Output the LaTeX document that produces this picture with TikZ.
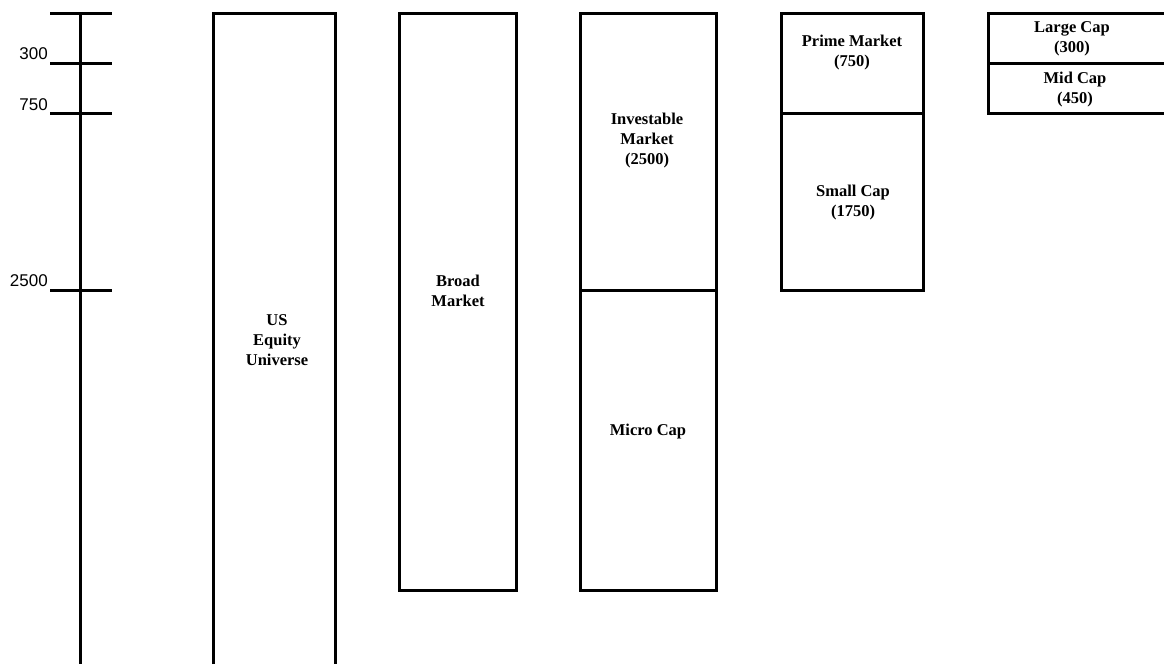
\documentclass[tikz,border=0pt]{standalone}
\usepackage{fontspec}
\setmainfont{Liberation Serif}
\newfontfamily\axisfont{Liberation Sans}
\begin{document}
\begin{tikzpicture}[x=1pt,y=-1pt,
  edge/.style={line width=3pt,line join=miter},
  lbl/.style={font=\bfseries\fontsize{16.5}{20}\selectfont,align=center,inner sep=0pt},
  ax/.style={font=\axisfont\fontsize{17}{20}\selectfont,inner sep=0pt,anchor=base east}]
\useasboundingbox (0,0) rectangle (1164,664);
% axis
\coordinate (axtop) at (80,13);
\coordinate (axbot) at (80,664);
\draw[edge] (axtop) -- (axbot);
\coordinate (t0a) at (50,13);   \coordinate (t0b) at (112,13);
\coordinate (t1a) at (50,63);   \coordinate (t1b) at (112,63);
\coordinate (t2a) at (50,113);  \coordinate (t2b) at (112,113);
\coordinate (t3a) at (50,290);  \coordinate (t3b) at (112,290);
\draw[edge] (t0a) -- (t0b);
\draw[edge] (t1a) -- (t1b);
\draw[edge] (t2a) -- (t2b);
\draw[edge] (t3a) -- (t3b);
\node[ax] (l300) at (48,59.5) {300};
\node[ax] (l750) at (48,110.5) {750};
\node[ax] (l2500) at (48,286.5) {2500};
% US equity universe (open bottom)
\draw[edge] (213,664) -- (213,13) -- (335,13) -- (335,664);
\node[lbl] (us) at (277,340) {US\\Equity\\Universe};
% Broad market
\draw[edge] (399,13) rectangle (516,590);
\node[lbl] (broad) at (458,291) {Broad\\Market};
% Investable / Micro
\draw[edge] (580,13) rectangle (716,590);
\draw[edge] (580,290) -- (716,290);
\node[lbl] (inv) at (647,141) {Investable\\Market\\(2500)};
\node[lbl] (micro) at (648,432) {Micro Cap};
% Prime / Small
\draw[edge] (781,13) rectangle (923,290);
\draw[edge] (781,113) -- (923,113);
\node[lbl] (prime) at (852,53) {Prime Market\\(750)};
\node[lbl] (small) at (853,203) {Small Cap\\(1750)};
% Large / Mid (cut at right edge)
\draw[edge] (1166,13) -- (988,13) -- (988,113) -- (1166,113);
\draw[edge] (988,63) -- (1166,63);
\node[lbl] (large) at (1072,39) {Large Cap\\(300)};
\node[lbl] (mid) at (1075,90) {Mid Cap\\(450)};
\end{tikzpicture}
\end{document}
